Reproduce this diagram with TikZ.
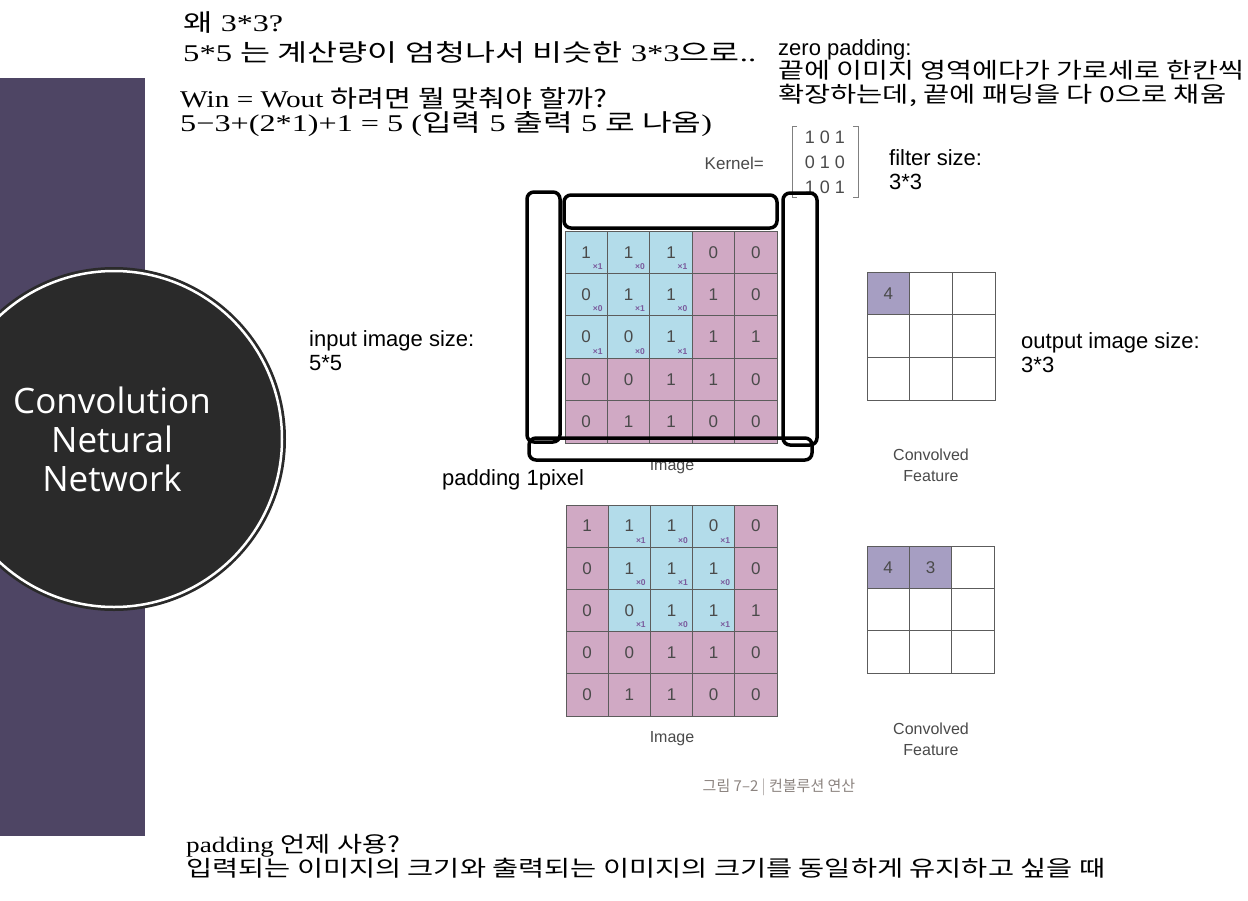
\documentclass[tikz,border=0pt]{standalone}
\usepackage{fontspec}
\usepackage{graphicx}
\usetikzlibrary{calc}
\setmainfont{Liberation Serif}
\newfontfamily\kr{Noto Sans CJK KR}
\newfontfamily\arial{Liberation Sans}
\newfontfamily\seg{Open Sans}
\makeatletter
\newlength\fitlen
\newcommand\fitw[2]{\sbox0{#2}\setlength\fitlen{\wd0}\scalebox{\fpeval{#1/\strip@pt\fitlen}}[1]{\usebox0}}
\makeatother
\definecolor{band}{HTML}{4E4564}
\definecolor{circ}{HTML}{2A2A2A}
\definecolor{bluec}{HTML}{B3DCEA}
\definecolor{pinkc}{HTML}{D0A9C4}
\definecolor{outc}{HTML}{A69EC2}
\definecolor{gridc}{HTML}{5C5C5C}
\definecolor{numc}{HTML}{4A4A4A}
\definecolor{subc}{HTML}{7A5A9C}
\definecolor{capc}{HTML}{8C8480}
\tikzset{
  ktxt/.style={anchor=base west, inner sep=0pt, font=\fontsize{24}{28}\selectfont},
  atxt/.style={anchor=base west, inner sep=0pt, font=\arial\fontsize{22}{26}\selectfont},
  gtxt/.style={anchor=base west, inner sep=0pt, font=\kr\fontsize{22}{26}\selectfont},
  cell/.style={draw=gridc, line width=0.7pt, minimum size=42.4pt, inner sep=0pt, text=numc, font=\arial\fontsize{17}{18}\selectfont},
  ocell/.style={draw=gridc, line width=0.7pt, minimum size=42.67pt, inner sep=0pt, fill=white, text=numc, font=\arial\fontsize{17}{18}\selectfont},
  sub/.style={inner sep=0pt, text=subc, font=\arial\bfseries\fontsize{8.5}{9}\selectfont},
  lbl/.style={inner sep=0pt, text=numc, align=center, font=\arial\fontsize{16}{21}\selectfont},
  padbox/.style={draw=black, line width=3.5pt, rounded corners=7pt},
  brk/.style={draw=gray, line width=0.8pt}
}
\begin{document}
\begin{tikzpicture}[x=1pt,y=-1pt]
\useasboundingbox (0,0) rectangle (1248,900);
\fill[white] (0,0) rectangle (1248,900);
% left band and circle
\fill[band] (0,78) rectangle (145,836);
\fill[circ] (114,439) circle (172pt);
\draw[white, line width=2.5pt] (114,439) circle (168pt);
\node[text=white, align=center, font=\seg\fontsize{35}{39}\selectfont] (title) at (112,439) {Convolution\\Netural\\Network};

% top-left text
\node[ktxt] (t1) at (183,31) {\fitw{100}{{\kr 왜} 3*3?}};
\node[ktxt] (t2) at (183,61) {\fitw{573}{5*5 {\kr 는 계산량이 엄청나서 비슷한} 3*3{\kr 으로}..}};
\node[ktxt] (t3) at (180,107) {\fitw{427}{Win = Wout {\kr 하려면 뭘 맞춰야 할까?}}};
\node[ktxt] (t4) at (180,131) {\fitw{532}{5−3+(2*1)+1 = 5 ({\kr 입력} 5 {\kr 출력} 5 {\kr 로 나옴})}};

% zero padding
\node[atxt] (zp) at (778,55) {zero padding:};
\node[gtxt] (zp1) at (778,78) {\fitw{466}{끝에 이미지 영역에다가 가로세로 한칸씩}};
\node[gtxt] (zp2) at (778,102) {\fitw{448}{확장하는데, 끝에 패딩을 다 0으로 채움}};

% kernel
\node[anchor=base east, inner sep=0pt, text=numc, font=\arial\fontsize{17}{20}\selectfont] (kl) at (764,169) {Kernel=};
\node[inner sep=0pt, text=numc, font=\arial\fontsize{18}{20}\selectfont] (k1) at (825,137) {1 0 1};
\node[inner sep=0pt, text=numc, font=\arial\fontsize{18}{20}\selectfont] (k2) at (825,162) {0 1 0};
\node[inner sep=0pt, text=numc, font=\arial\fontsize{18}{20}\selectfont] (k3) at (825,187) {1 0 1};
\draw[brk] (797,126) -- (792,126) -- (792,197) -- (797,197);
\draw[brk] (853,126) -- (858,126) -- (858,197) -- (853,197);

\node[atxt] (fs) at (889,165) {filter size:};
\node[atxt] (fs2) at (889,189) {3*3};

% top image grid
\foreach \row [count=\r] in {{1,1,1,0,0},{0,1,1,1,0},{0,0,1,1,1},{0,0,1,1,0},{0,1,1,0,0}} {
  \foreach \v [count=\c] in \row {
    \def\cc{pinkc}
    \ifnum\r<4 \ifnum\c<4 \def\cc{bluec}\fi\fi
    \node[cell, fill=\cc] (A-\r-\c) at ({565+42.4*(\c-0.5)},{231+42.4*(\r-0.5)}) {\v};
  }
}
\foreach \s [count=\i from 0] in {1,0,1,0,1,0,1,0,1} {
  \pgfmathtruncatemacro\rr{int(\i/3)+1}
  \pgfmathtruncatemacro\cc{mod(\i,3)+1}
  \node[sub] (As-\rr-\cc) at ($(A-\rr-\cc.north west)+(33,36)$) {×\s};
}
\node[lbl] (img1) at (672,467) {Image};

% padding boxes
\draw[padbox] (527,192) rectangle (560,442);
\draw[padbox] (564,195) rectangle (777,228);
\draw[padbox] (783,193) rectangle (817,445);
\draw[padbox] (529,438) rectangle (812,460);

\node[atxt] (pad) at (442,485) {padding 1pixel};
\node[atxt] (in1) at (309,346) {input image size:};
\node[atxt] (in2) at (309,370) {5*5};

% top output grid
\foreach \r in {1,2,3} {
  \foreach \c in {1,2,3} {
    \def\cc{white}\def\tx{}
    \ifnum\r=1 \ifnum\c=1 \def\cc{outc}\def\tx{4}\fi\fi
    \node[ocell, fill=\cc] (O-\r-\c) at ({867+42.67*(\c-0.5)},{272+42.67*(\r-0.5)}) {\tx};
  }
}
\node[lbl] (cf1) at (931,465) {Convolved\\Feature};
\node[atxt] (out1) at (1021,348) {output image size:};
\node[atxt] (out2) at (1021,372) {3*3};

% bottom image grid
\foreach \row [count=\r] in {{1,1,1,0,0},{0,1,1,1,0},{0,0,1,1,1},{0,0,1,1,0},{0,1,1,0,0}} {
  \foreach \v [count=\c] in \row {
    \def\cc{pinkc}
    \ifnum\r<4 \ifnum\c>1 \ifnum\c<5 \def\cc{bluec}\fi\fi\fi
    \node[cell, fill=\cc, minimum size=42.2pt] (B-\r-\c) at ({566+42.2*(\c-0.5)},{505+42.2*(\r-0.5)}) {\v};
  }
}
\foreach \s [count=\i from 0] in {1,0,1,0,1,0,1,0,1} {
  \pgfmathtruncatemacro\rr{int(\i/3)+1}
  \pgfmathtruncatemacro\cc{mod(\i,3)+2}
  \node[sub] (Bs-\rr-\cc) at ($(B-\rr-\cc.north west)+(33,36)$) {×\s};
}
\node[lbl] (img2) at (672,739) {Image};

% bottom output grid
\foreach \r in {1,2,3} {
  \foreach \c in {1,2,3} {
    \def\cc{white}\def\tx{}
    \ifnum\r=1 \ifnum\c=1 \def\cc{outc}\def\tx{4}\fi\fi
    \ifnum\r=1 \ifnum\c=2 \def\cc{outc}\def\tx{3}\fi\fi
    \node[ocell, fill=\cc, minimum size=42.4pt] (P-\r-\c) at ({867+42.4*(\c-0.5)},{546+42.4*(\r-0.5)}) {\tx};
  }
}
\node[lbl] (cf2) at (931,739) {Convolved\\Feature};

% caption
\node[inner sep=0pt, text=capc, font=\kr\fontsize{15}{17}\selectfont] (cap) at (779,787) {그림 7–2 \textcolor{capc!60}{|} 컨볼루션 연산};

% bottom text
\node[ktxt, font=\fontsize{22}{26}\selectfont] (pb1) at (186,852) {\fitw{214}{padding {\kr 언제 사용?}}};
\node[gtxt] (pb2) at (186,876) {\fitw{919}{입력되는 이미지의 크기와 출력되는 이미지의 크기를 동일하게 유지하고 싶을 때}};
\end{tikzpicture}
\end{document}
